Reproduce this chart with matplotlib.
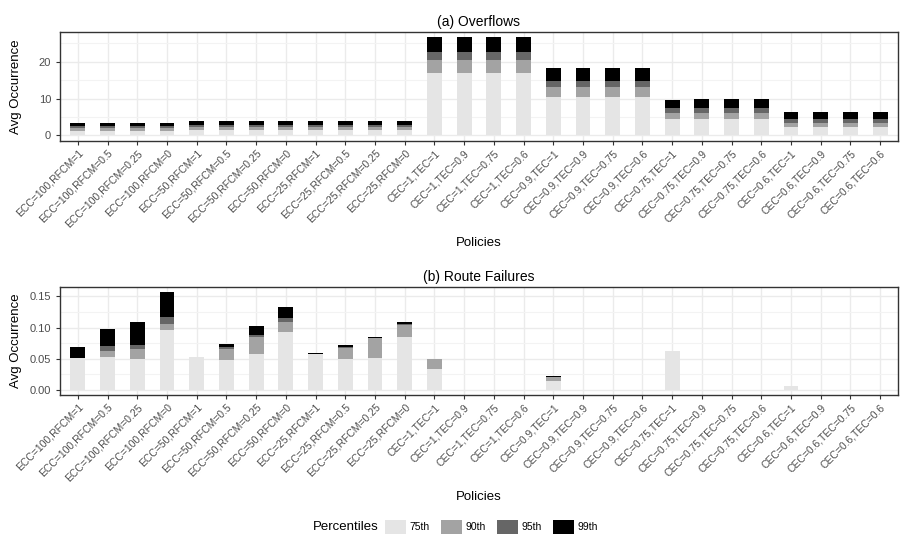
import numpy as np
import matplotlib.pyplot as plt
from matplotlib.patches import Patch
from matplotlib.ticker import MultipleLocator

plt.rcParams['font.family'] = ['Liberation Sans', 'DejaVu Sans']

policies = [
    "ECC=100,RFCM=1", "ECC=100,RFCM=0.5", "ECC=100,RFCM=0.25", "ECC=100,RFCM=0",
    "ECC=50,RFCM=1", "ECC=50,RFCM=0.5", "ECC=50,RFCM=0.25", "ECC=50,RFCM=0",
    "ECC=25,RFCM=1", "ECC=25,RFCM=0.5", "ECC=25,RFCM=0.25", "ECC=25,RFCM=0",
    "CEC=1,TEC=1", "CEC=1,TEC=0.9", "CEC=1,TEC=0.75", "CEC=1,TEC=0.6",
    "CEC=0.9,TEC=1", "CEC=0.9,TEC=0.9", "CEC=0.9,TEC=0.75", "CEC=0.9,TEC=0.6",
    "CEC=0.75,TEC=1", "CEC=0.75,TEC=0.9", "CEC=0.75,TEC=0.75", "CEC=0.75,TEC=0.6",
    "CEC=0.6,TEC=1", "CEC=0.6,TEC=0.9", "CEC=0.6,TEC=0.75", "CEC=0.6,TEC=0.6",
]
percentiles = ["75th", "90th", "95th", "99th"]
colors = ["#E5E5E5", "#A3A3A3", "#666666", "#000000"]

# overflows: stacked increments per percentile
of_75 = [1.1, 1.1, 1.1, 1.1, 1.4, 1.4, 1.4, 1.4, 1.5, 1.5, 1.5, 1.5,
         17.0, 17.0, 17.0, 17.0, 10.4, 10.4, 10.4, 10.4,
         4.4, 4.4, 4.4, 4.4, 2.2, 2.2, 2.2, 2.2]
of_90 = [0.8, 0.8, 0.8, 0.8, 0.8, 0.8, 0.8, 0.8, 0.8, 0.8, 0.8, 0.8,
         3.45, 3.45, 3.45, 3.45, 2.7, 2.7, 2.7, 2.7,
         1.6, 1.6, 1.6, 1.6, 1.3, 1.3, 1.3, 1.3]
of_95 = [0.55, 0.55, 0.55, 0.55, 0.55, 0.55, 0.55, 0.55, 0.55, 0.55, 0.55, 0.55,
         2.15, 2.15, 2.15, 2.15, 1.6, 1.6, 1.6, 1.6,
         1.4, 1.4, 1.4, 1.4, 0.9, 0.9, 0.9, 0.9]
of_99 = [0.9, 0.9, 0.9, 0.9, 1.1, 1.1, 1.1, 1.1, 1.2, 1.2, 1.2, 1.2,
         4.1, 4.1, 4.1, 4.1, 3.6, 3.6, 3.6, 3.6,
         2.1, 2.4, 2.4, 2.4, 1.9, 1.9, 1.9, 1.9]

# route failures
rf_75 = [0.051, 0.053, 0.050, 0.096, 0.053, 0.048, 0.058, 0.093,
         0.058, 0.050, 0.051, 0.085, 0.034, 0, 0, 0,
         0.0144, 0, 0, 0, 0.0624, 0, 0, 0, 0.0064, 0, 0, 0]
rf_90 = [0.001, 0.0094, 0.0156, 0.0097, 0, 0.0176, 0.0272, 0.0161,
         0, 0.0172, 0.0322, 0.0192, 0.016, 0, 0, 0,
         0.0064, 0, 0, 0, 0, 0, 0, 0, 0, 0, 0, 0]
rf_95 = [0, 0.0076, 0.0064, 0.0113, 0, 0.0032, 0.0032, 0.0064,
         0, 0.0016, 0, 0.0017, 0, 0, 0, 0,
         0, 0, 0, 0, 0, 0, 0, 0, 0, 0, 0, 0]
rf_99 = [0.017, 0.027, 0.037, 0.040, 0, 0.0048, 0.0145, 0.0177,
         0.0016, 0.0032, 0.0016, 0.0033, 0, 0, 0, 0,
         0.0016, 0, 0, 0, 0, 0, 0, 0, 0, 0, 0, 0]

W, H = 904, 536
fig = plt.figure(figsize=(W / 100, H / 100), dpi=100)

def panel(top, bottom, series, title, ylim, major, minor, fmt):
    ax = fig.add_axes([60 / W, 1 - bottom / H, (898 - 60) / W, (bottom - top) / H])
    x = np.arange(len(policies))
    base = np.zeros(len(policies))
    for vals, c in zip(series, colors):
        vals = np.array(vals)
        ax.bar(x, vals, 0.5, bottom=base, color=c, linewidth=0, zorder=3)
        base += vals
    ax.set_xlim(-0.6, len(policies) - 0.4)
    ax.set_ylim(*ylim)
    ax.yaxis.set_major_locator(MultipleLocator(major))
    ax.yaxis.set_minor_locator(MultipleLocator(minor))
    ax.yaxis.set_major_formatter(fmt)
    ax.set_xticks(x)
    ax.set_xticklabels(policies, rotation=45, ha='right', rotation_mode='anchor',
                       fontsize=7.5, color='#4D4D4D')
    ax.tick_params(axis='y', labelsize=8, labelcolor='#4D4D4D', length=3,
                   color='#333333', width=0.8)
    ax.tick_params(axis='x', length=3, color='#333333', width=0.8, pad=2)
    ax.tick_params(which='minor', length=0)
    ax.grid(True, which='major', color='#EBEBEB', lw=1.0, zorder=0)
    ax.grid(True, which='minor', axis='y', color='#F3F3F3', lw=0.8, zorder=0)
    for s in ax.spines.values():
        s.set_color('#333333')
        s.set_linewidth(1.0)
    ax.set_title(title, fontsize=10, pad=4)
    ax.set_ylabel("Avg Occurrence", fontsize=9.5)
    ax.yaxis.set_label_coords(-0.045, 0.5)
    ax.set_xlabel("Policies", fontsize=9.5, labelpad=6)
    return ax

panel(32, 141, [of_75, of_90, of_95, of_99], "(a) Overflows",
      (-1.5, 28.1), 10, 5, lambda v, p: f"{v:.0f}")
panel(287, 395, [rf_75, rf_90, rf_95, rf_99], "(b) Route Failures",
      (-0.0079, 0.165), 0.05, 0.025, lambda v, p: f"{v:.2f}")

handles = [Patch(facecolor=c, edgecolor='none') for c in colors]
fig.text(379 / W, 1 - 527 / H, "Percentiles", fontsize=9.5, ha='right', va='center')
fig.legend(handles, percentiles, ncol=4, loc='center left',
           bbox_to_anchor=(385 / W, 1 - 527 / H), frameon=False, fontsize=7.5,
           handlelength=2.0, handleheight=1.6, handletextpad=0.3,
           columnspacing=1.15, borderpad=0, borderaxespad=0)

fig.savefig("out.png", dpi=100)
